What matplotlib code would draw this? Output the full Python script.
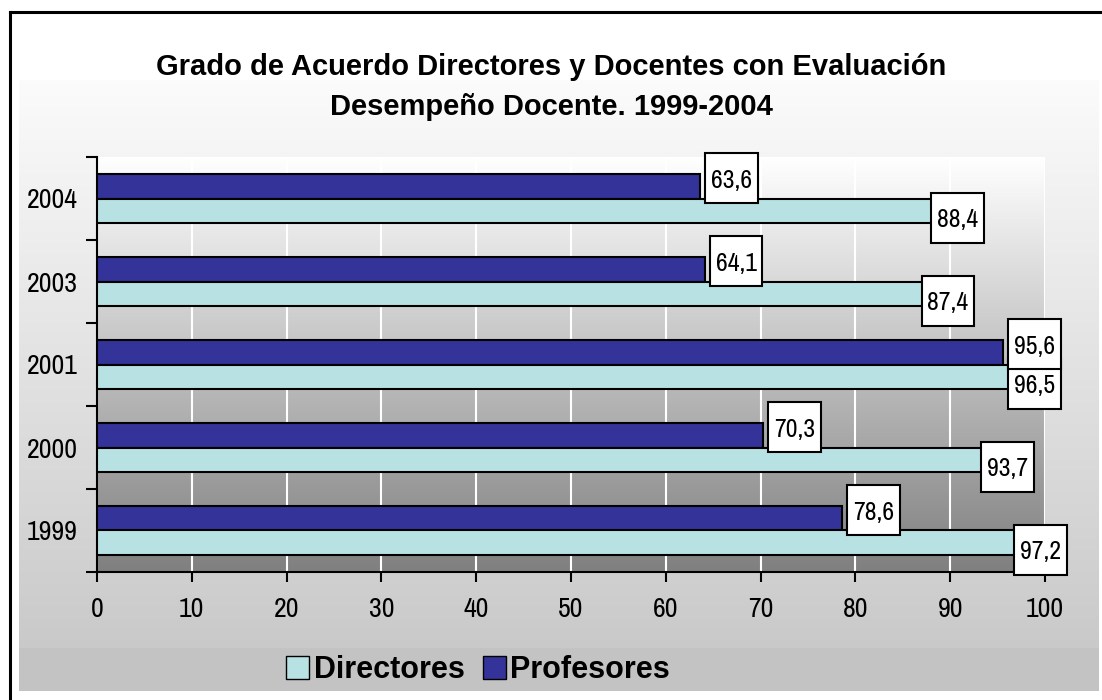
import numpy as np
import matplotlib
matplotlib.use("Agg")
import matplotlib.pyplot as plt
from matplotlib.patches import Patch, Rectangle
from matplotlib.lines import Line2D
from matplotlib.text import Text
from matplotlib.offsetbox import DrawingArea, AnnotationBbox

# data (bottom to top)
years = ["1999", "2000", "2001", "2003", "2004"]
directores = [97.2, 93.7, 96.5, 87.4, 88.4]
profesores = [78.6, 70.3, 95.6, 64.1, 63.6]
x_ticks = [0, 10, 20, 30, 40, 50, 60, 70, 80, 90, 100]

col_dir = "#B8E1E4"
col_prof = "#333399"
narrow = ["Archivo Narrow", "DejaVu Sans"]
bold_font = ["Liberation Sans", "DejaVu Sans"]

W, H = 1102, 700
fig = plt.figure(figsize=(W / 100, H / 100), dpi=100)

# ---- background panel (chart area gradient) ----
bg = fig.add_axes([0, 0, 1, 1], zorder=-10)
g = np.linspace(0.985, 0.79, 256)
grad = np.dstack([g, g, g]).reshape(256, 1, 3)
bg.imshow(grad, extent=(19, 1099, 648, 80), aspect="auto", origin="upper")
bg.add_patch(Rectangle((19, 648), 1080, 43, fc="#c3c3c3", ec="none"))
bg.add_line(Line2D([10, W], [12, 12], color="black", lw=2.2))
bg.add_line(Line2D([10, 10], [12, H], color="black", lw=2.2))
bg.set_xlim(0, W)
bg.set_ylim(H, 0)
bg.axis("off")

# ---- title ----
fig.text(551 / W, 1 - 75 / H, "Grado de Acuerdo Directores y Docentes con Evaluación",
         ha="center", va="baseline", fontsize=21, fontweight="bold", family=bold_font)
fig.text(551 / W, 1 - 115 / H, "Desempeño Docente. 1999-2004",
         ha="center", va="baseline", fontsize=21, fontweight="bold", family=bold_font)

# ---- plot area ----
ax = fig.add_axes([97 / W, 128 / H, 948 / W, 415 / H])
y = np.arange(len(years))
h = 0.29

p = np.linspace(0.5, 1.0, 256)
pgrad = np.dstack([p, p, p]).reshape(256, 1, 3)
ax.imshow(pgrad, extent=(0, 100, -0.5, 4.5), aspect="auto", origin="lower", zorder=0)

ax.barh(y + h / 2, profesores, height=h, color=col_prof, edgecolor="black", lw=1.5, zorder=3)
ax.barh(y - h / 2, directores, height=h, color=col_dir, edgecolor="black", lw=1.5, zorder=3)


def value_box(v, yy, dx, dy, z):
    # fixed size white label box like the Excel data labels
    bw, bh = 38, 36  # points
    da = DrawingArea(bw, bh, 0, 0)
    da.add_artist(Text(bw / 2, bh / 2, f"{v:.1f}".replace(".", ","), ha="center",
                       va="center_baseline", fontsize=18.5, family=narrow))
    ab = AnnotationBbox(da, (v, yy), xybox=(dx, dy), xycoords="data",
                        boxcoords="offset pixels", box_alignment=(0, 0.5), pad=0,
                        bboxprops=dict(ec="black", fc="white", lw=1.5), zorder=z)
    ax.add_artist(ab)


for yy, v in zip(y, directores):
    value_box(v, yy - h / 2, -4, -7, 5)
for yy, v in zip(y, profesores):
    value_box(v, yy + h / 2, 5, 8, 6)

ax.set_xlim(0, 100)
ax.set_ylim(-0.5, 4.5)
ax.set_xticks(x_ticks)
ax.set_xticklabels([str(t) for t in x_ticks], fontsize=20, family=narrow)
ax.set_yticks(np.arange(-0.5, 5, 1))
ax.set_yticklabels([])
ax.set_yticks(y, minor=True)
ax.set_yticklabels(years, minor=True, fontsize=20, family=narrow)
ax.tick_params(axis="y", which="major", length=8, width=1.5, direction="out")
ax.tick_params(axis="y", which="minor", length=0, pad=14)
ax.tick_params(axis="x", length=7, width=1.5, direction="out", pad=11)

ax.set_axisbelow(True)
ax.grid(axis="x", color="white", lw=1.5)
for s in ["top", "right"]:
    ax.spines[s].set_visible(False)
for s in ["left", "bottom"]:
    ax.spines[s].set_linewidth(1.5)
ax.patch.set_alpha(0)

# ---- legend ----
handles = [Patch(fc=col_dir, ec="black", label="Directores"),
           Patch(fc=col_prof, ec="black", label="Profesores")]
fig.legend(handles=handles, loc="center", bbox_to_anchor=(478 / W, 1 - 670 / H), ncol=2,
           frameon=False, prop=dict(family=bold_font, weight="bold", size=22),
           handlelength=0.75, handleheight=0.75, handletextpad=0.15, columnspacing=0.6)

fig.savefig("out.png", dpi=100)
